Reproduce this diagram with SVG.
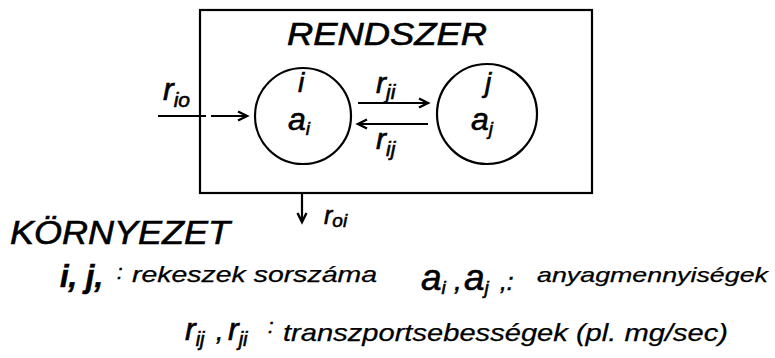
<svg xmlns="http://www.w3.org/2000/svg" width="775" height="358" viewBox="0 0 775 358">
<defs>
<marker id="ah" markerWidth="14" markerHeight="12" refX="11" refY="6" orient="auto" markerUnits="userSpaceOnUse">
<path d="M2,1.5 L11,6 L2,10.5" fill="none" stroke="#000" stroke-width="2.4" stroke-linejoin="miter"/>
</marker>
</defs>
<style>
.t{font-family:"Liberation Sans","DejaVu Sans",Arial,sans-serif;font-style:italic;fill:#000;stroke:#000;stroke-width:0.6}
.s{font-family:"Liberation Sans","DejaVu Sans",Arial,sans-serif;font-style:italic;fill:#000;stroke:#000;stroke-width:0.25}
.ln{stroke:#000;stroke-width:2.2;fill:none}
.arr{stroke:#000;stroke-width:2.2;fill:none;marker-end:url(#ah)}
</style>
<rect width="775" height="358" fill="#fff"/>

<g id="system">
<rect x="200" y="10" width="392" height="183" class="ln"/>
<text class="t" x="287" y="45" font-size="31" textLength="200" lengthAdjust="spacingAndGlyphs">RENDSZER</text>
</g>

<g id="node-i">
<circle cx="303" cy="116" r="48" class="ln"/>
<text class="t" font-size="28"><tspan x="298" y="92">i</tspan><tspan x="288" y="130" font-size="32">a</tspan><tspan font-size="19" dy="5">i</tspan></text>
</g>

<g id="node-j">
<circle cx="487" cy="114" r="50" class="ln"/>
<text class="t" font-size="28"><tspan x="485" y="92">j</tspan><tspan x="471" y="130" font-size="32">a</tspan><tspan font-size="19" dy="5">j</tspan></text>
</g>

<g id="connectors">
<path d="M158,116 H206" class="ln"/>
<path d="M211,116 H247" class="arr"/>
<path d="M358,103 H428" class="arr"/>
<path d="M428,124 H358" class="arr"/>
<path d="M302,193 V222" class="arr"/>
</g>

<g id="labels">
<text class="t" x="163" y="100" font-size="32">r<tspan font-size="21" dy="7">io</tspan></text>
<text class="t" x="376" y="93" font-size="30">r<tspan font-size="21" dy="6">ji</tspan></text>
<text class="t" x="376" y="149" font-size="30">r<tspan font-size="21" dy="7">ij</tspan></text>
<text class="t" x="324" y="224" font-size="25">r<tspan font-size="19" dy="3">oi</tspan></text>
</g>

<g id="environment">
<text class="t" x="10" y="244" font-size="33" textLength="220" lengthAdjust="spacingAndGlyphs">KÖRNYEZET</text>
</g>

<g id="legend">
<text class="t" x="60" y="287" font-size="31" font-weight="bold">i, j,</text>
<text class="t" x="117" y="279" font-size="20">:</text>
<text class="s" x="132" y="282" font-size="22" textLength="245" lengthAdjust="spacingAndGlyphs">rekeszek sorszáma</text>

<text class="t" x="421" y="290" font-size="37">a<tspan font-size="19" dy="4">i</tspan></text>
<text class="t" x="454" y="290" font-size="28">,</text>
<text class="t" x="464" y="290" font-size="37">a<tspan font-size="19" dy="4">j</tspan></text>
<text class="t" x="500" y="290" font-size="24">,:</text>
<text class="s" x="537" y="282" font-size="21" textLength="231" lengthAdjust="spacingAndGlyphs">anyagmennyiségek</text>

<text class="t" x="185" y="340" font-size="32">r<tspan font-size="20" dy="6">ij</tspan></text>
<text class="t" x="216" y="340" font-size="26">,</text>
<text class="t" x="228" y="340" font-size="32">r<tspan font-size="20" dy="6">ji</tspan></text>
<text class="t" x="268" y="333" font-size="20">:</text>
<text class="s" x="283" y="341" font-size="24" textLength="445" lengthAdjust="spacingAndGlyphs">transzportsebességek (pl. mg/sec)</text>
</g>
</svg>
